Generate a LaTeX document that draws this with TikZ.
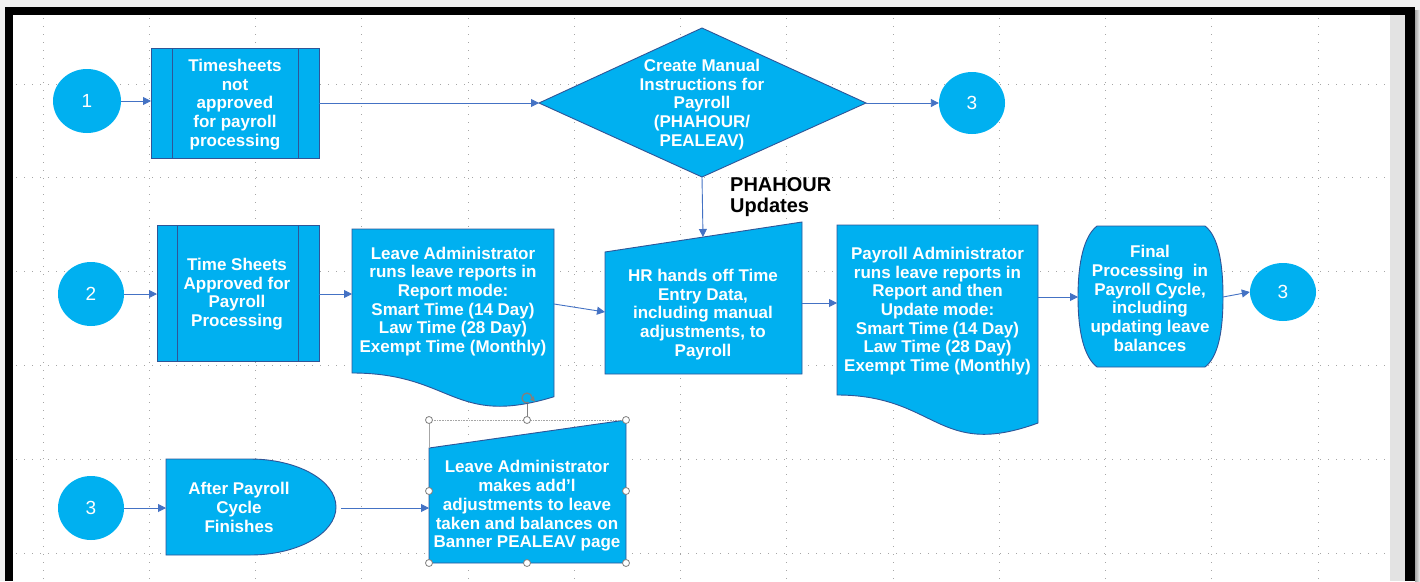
\documentclass[tikz,border=0pt]{standalone}
\usepackage{fontspec}
\setmainfont{Liberation Sans}
\usetikzlibrary{arrows.meta,shapes.geometric}
\definecolor{fillblue}{HTML}{00B0F0}
\definecolor{edgeblue}{HTML}{2F5597}
\definecolor{arrowblue}{HTML}{4472C4}
\definecolor{gridgray}{HTML}{A6A6A6}
\definecolor{stripgray}{HTML}{E3E3E3}
\definecolor{outgray}{HTML}{F0F0F0}
\begin{document}
\begin{tikzpicture}[x=1pt,y=-1pt,
  griddot/.style={gridgray,line width=0.9pt,dash pattern=on 1pt off 7pt},
  shp/.style={fill=fillblue,draw=edgeblue,line width=0.9pt},
  circ/.style={ellipse,fill=fillblue,draw=none,inner sep=0pt,text=white,
    font=\fontsize{19}{20}\selectfont},
  txt/.style={text=white,align=center,inner sep=0pt,
    font=\bfseries\fontsize{17}{18.7}\selectfont},
  conn/.style={draw=arrowblue,line width=0.9pt,-{Triangle[length=8pt,width=8pt]}},
  handle/.style={circle,draw=gray,fill=white,line width=0.8pt,inner sep=0pt,minimum size=7pt}]
\useasboundingbox (0,0) rectangle (1420,581);
% background and frame
\fill[outgray] (0,0) rectangle (1420,581);
\fill[white] (13,15) rectangle (1390,581);
\fill[stripgray] (1390,15) rectangle (1405,581);
\shade[left color=gray!70,right color=outgray] (1415,10) rectangle (1420,581);
\fill[black] (5,7) rectangle (1415,15);
\fill[black] (5,7) rectangle (13,581);
\fill[black] (1405,7) rectangle (1415,581);
% grid
\foreach \i in {0,...,12} \draw[griddot] ({43+106.25*\i},18) -- ({43+106.25*\i},581);
\foreach \j in {0,...,5} \draw[griddot] (16,{84+93.8*\j}) -- (1388,{84+93.8*\j});

% ---------- Row 1 ----------
\node[circ,minimum width=68pt,minimum height=64pt] (c1) at (87,101) {1};
\draw[shp] (151,48) rectangle (319,158);
\draw[edgeblue,line width=0.9pt] (172,48) -- (172,158) (298,48) -- (298,158);
\coordinate (ts1w) at (151,101);
\coordinate (ts1e) at (319,103);
\node[txt] (ts1) at (235,104.5) {Timesheets\\not\\approved\\for payroll\\processing};

\draw[shp] (539,103) -- (702,28) -- (866,103) -- (702,177) -- cycle;
\coordinate (dw) at (539,103);
\coordinate (de) at (866,103);
\coordinate (ds) at (702,177);
\node[txt] (dtext) at (702,104.5) {Create Manual\\Instructions for\\Payroll\\(PHAHOUR/\\PEALEAV)};

\node[circ,minimum width=66pt,minimum height=62pt] (c3a) at (972,103) {3};

\node[anchor=north west,align=left,inner sep=0pt,text=black,
  font=\bfseries\fontsize{20}{21}\selectfont] (upd) at (730,177) {PHAHOUR\\Updates};

% ---------- Row 2 ----------
\node[circ,minimum width=66pt,minimum height=64pt] (c2) at (91,294) {2};
\draw[shp] (157,225) rectangle (319,361);
\draw[edgeblue,line width=0.9pt] (177,225) -- (177,361) (298,225) -- (298,361);
\coordinate (ts2w) at (157,294);
\coordinate (ts2e) at (319,294);
\node[txt] (ts2) at (237,294) {Time Sheets\\Approved for\\Payroll\\Processing};

\draw[shp] (352,229) -- (554,229) -- (554,396.7)
  .. controls (453,427.8) and (453,373) .. (352,373) -- cycle;
\coordinate (d1w) at (352,294);
\coordinate (d1e) at (554,304);
\node[txt] (d1) at (453,301.5) {Leave Administrator\\runs leave reports in\\Report mode:\\Smart Time (14 Day)\\Law Time (28 Day)\\Exempt Time (Monthly)};

\draw[shp] (605,252) -- (802,222) -- (802,374) -- (605,374) -- cycle;
\coordinate (hrn) at (703,237);
\coordinate (hrw) at (605,312);
\coordinate (hre) at (802,303);
\node[txt] (hr) at (703,314.5) {HR hands off Time\\Entry Data,\\including manual\\adjustments, to\\Payroll};

\draw[shp] (837,225) -- (1038,225) -- (1038,423)
  .. controls (937.5,459.8) and (937.5,395) .. (837,395) -- cycle;
\coordinate (d2w) at (837,303);
\coordinate (d2e) at (1038,297);
\node[txt] (d2) at (937.5,311) {Payroll Administrator\\runs leave reports in\\Report and then\\Update mode:\\Smart Time (14 Day)\\Law Time (28 Day)\\Exempt Time (Monthly)};

\draw[shp] (1097,226) -- (1205,226)
  .. controls (1218,236) and (1223,262) .. (1223,297)
  .. controls (1223,332) and (1218,357) .. (1205,367)
  -- (1097,367)
  .. controls (1084,357) and (1078,332) .. (1078,297)
  .. controls (1078,262) and (1084,236) .. (1097,226) -- cycle;
\coordinate (fw) at (1078,297);
\coordinate (fe) at (1223,297);
\node[txt] (fin) at (1150,298.5) {Final\\Processing~ in\\Payroll Cycle,\\including\\updating leave\\balances};

\node[circ,minimum width=66pt,minimum height=58pt] (c3b) at (1283,292) {3};

% ---------- Row 3 ----------
\node[circ,minimum width=66pt,minimum height=64pt] (c3c) at (91,508) {3};
\draw[shp] (166,459) -- (250,459)
  .. controls (297.5,459) and (336,480.5) .. (336,507)
  .. controls (336,533.5) and (297.5,555) .. (250,555)
  -- (166,555) -- cycle;
\coordinate (dlw) at (166,508);
\coordinate (dle) at (341,508);
\node[txt] (dl) at (239,507.5) {After Payroll\\Cycle\\Finishes};

\draw[shp] (429,448) -- (626,420) -- (626,563) -- (429,563) -- cycle;
\coordinate (la2w) at (429,508);
\node[txt] (la2) at (527,506) {Leave Administrator\\makes add’l\\adjustments to leave\\taken and balances on\\Banner PEALEAV page};

% selection decorations
\draw[gray!70,line width=0.6pt,densely dotted] (429,420) -- (626,420);
\draw[gray!70,line width=0.6pt] (429,420) -- (429,448);
\draw[gray,line width=0.8pt] (527,420) -- (527,404);
\draw[gray,line width=1.3pt] (532,398) arc[start angle=0,end angle=290,radius=5pt];
\fill[gray] (533.5,396) -- (530,400) -- (535,401.5) -- cycle;
\foreach \hx/\hy [count=\k] in {429/420,527/420,626/420,429/491,626/491,429/563,527/563,626/563}
  \node[handle] (h\k) at (\hx,\hy) {};

% ---------- connectors ----------
\draw[conn] (c1.east) -- (ts1w);
\draw[conn] (ts1e) -- (dw);
\draw[conn] (de) -- (c3a.west);
\draw[conn] (ds) -- (hrn);
\draw[conn] (c2.east) -- (ts2w);
\draw[conn] (ts2e) -- (d1w);
\draw[conn] (d1e) -- (hrw);
\draw[conn] (hre) -- (d2w);
\draw[conn] (d2e) -- (fw);
\draw[conn] (fe) -- (c3b.west);
\draw[conn] (c3c.east) -- (dlw);
\draw[conn] (dle) -- (la2w);
\end{tikzpicture}
\end{document}
